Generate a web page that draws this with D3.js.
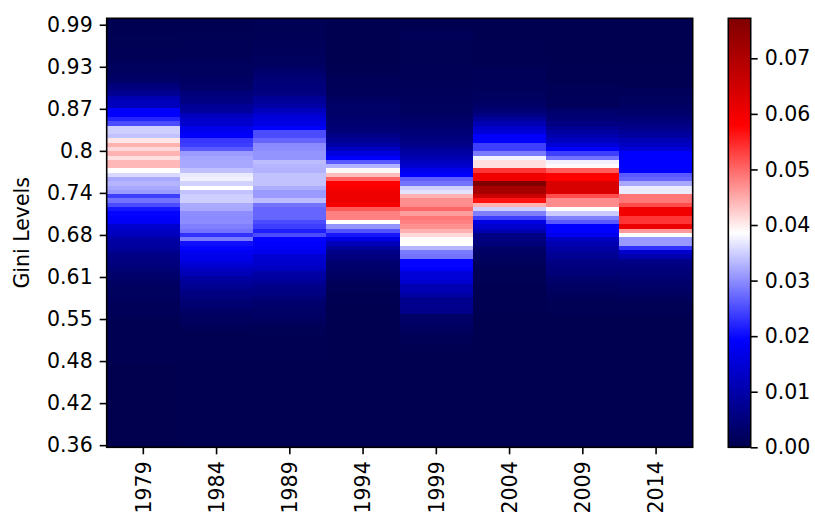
<!DOCTYPE html>
<meta charset="utf-8">
<head>
<style>
  body { margin: 0; background: #fff; }
  text { font-family: "DejaVu Sans", sans-serif; }
</style>
<title>Gini Levels heatmap</title>
</head>
<svg width="815" height="523"></svg>
<script src="https://cdn.jsdelivr.net/npm/d3@7"></script>
<script>

// years on the x axis, gini level tick labels on the y axis
var years = ["1979", "1984", "1989", "1994", "1999", "2004", "2009", "2014"];
var giniTicks = ["0.36", "0.42", "0.48", "0.55", "0.61", "0.68", "0.74", "0.8", "0.87", "0.93", "0.99"];
var cbarTicks = [0, 0.01, 0.02, 0.03, 0.04, 0.05, 0.06, 0.07];

// share of population per gini bin, bottom bin first (100 bins per year)
var v1979 = [
  0.0002,0.0002,0.0002,0.0002,0.0002,0.0002,0.0002,0.0002,0.0002,0.0002,
  0.0002,0.0002,0.0002,0.0002,0.0002,0.0002,0.0002,0.0002,0.0002,0.0002,
  0.0005,0.0005,0.0005,0.0005,0.0005,0.0005,0.0005,0.0005,0.0005,0.0005,
  0.001,0.0012,0.0013,0.0015,0.0016,0.0018,0.002,0.0022,0.0025,0.003,
  0.0035,0.0045,0.005,0.0055,0.006,0.007,0.0085,0.009,0.0095,0.012,
  0.013,0.014,0.0185,0.019,0.0195,0.021,0.025,0.028,0.024,0.031,
  0.032,0.033,0.032,0.0357,0.0386,0.044,0.044,0.041,0.0444,0.0415,
  0.0444,0.0405,0.034,0.035,0.035,0.025,0.022,0.019,0.019,0.012,
  0.012,0.011,0.0075,0.0055,0.005,0.003,0.0025,0.002,0.0018,0.0015,
  0.0012,0.001,0.001,0.0009,0.0008,0.0008,0.0007,0.0006,0.0005,0.0005
];
var v1984 = [
  0.0003,0.0003,0.0003,0.0003,0.0003,0.0003,0.0003,0.0003,0.0003,0.0003,
  0.0004,0.0004,0.0004,0.0004,0.0004,0.0004,0.0004,0.0004,0.0004,0.0004,
  0.0005,0.0005,0.0005,0.0005,0.0005,0.0005,0.0007,0.001,0.0015,0.0018,
  0.002,0.0025,0.0035,0.004,0.0045,0.0055,0.006,0.0075,0.0085,0.009,
  0.0115,0.013,0.0145,0.0165,0.017,0.018,0.0195,0.0205,0.0285,0.023,
  0.028,0.029,0.03,0.0298,0.03,0.032,0.0322,0.035,0.035,0.034,
  0.0386,0.0352,0.0375,0.037,0.0338,0.032,0.032,0.0318,0.031,0.026,
  0.024,0.0235,0.019,0.018,0.017,0.014,0.0135,0.012,0.0085,0.008,
  0.006,0.0055,0.005,0.003,0.0028,0.0025,0.0022,0.002,0.0018,0.0016,
  0.0014,0.0012,0.001,0.001,0.0009,0.0008,0.0008,0.0007,0.0006,0.0006
];
var v1989 = [
  0.0003,0.0003,0.0003,0.0003,0.0003,0.0003,0.0003,0.0003,0.0003,0.0003,
  0.0004,0.0004,0.0004,0.0004,0.0004,0.0004,0.0004,0.0004,0.0004,0.0004,
  0.0005,0.0005,0.0005,0.0005,0.0005,0.0005,0.0008,0.001,0.0013,0.0018,
  0.0025,0.0028,0.003,0.0035,0.004,0.0055,0.0058,0.0065,0.008,0.009,
  0.0095,0.0125,0.0135,0.014,0.0145,0.0175,0.0185,0.019,0.0195,0.025,
  0.0215,0.024,0.025,0.027,0.027,0.027,0.028,0.0335,0.031,0.031,
  0.0325,0.034,0.034,0.034,0.0328,0.033,0.0335,0.0305,0.0305,0.03,
  0.0298,0.027,0.025,0.025,0.0193,0.0165,0.0155,0.0145,0.012,0.0095,
  0.0085,0.008,0.0055,0.0052,0.005,0.0045,0.004,0.0035,0.0025,0.002,
  0.0018,0.0016,0.0014,0.0013,0.0012,0.0011,0.001,0.0009,0.0008,0.0008
];
var v1994 = [
  0.0003,0.0003,0.0003,0.0003,0.0003,0.0003,0.0003,0.0003,0.0003,0.0003,
  0.0003,0.0003,0.0003,0.0003,0.0003,0.0003,0.0003,0.0003,0.0003,0.0003,
  0.0003,0.0003,0.0003,0.0003,0.0003,0.0003,0.0003,0.0003,0.0003,0.0003,
  0.0003,0.0003,0.0003,0.0003,0.0005,0.0006,0.0008,0.001,0.0015,0.002,
  0.0025,0.003,0.0035,0.004,0.0055,0.0065,0.0085,0.012,0.0165,0.021,
  0.0255,0.0305,0.0386,0.0482,0.0482,0.051,0.0595,0.0605,0.0605,0.06,
  0.059,0.058,0.0505,0.0435,0.039,0.0328,0.026,0.019,0.016,0.0125,
  0.01,0.008,0.0065,0.005,0.0042,0.0038,0.0035,0.0032,0.003,0.0028,
  0.0025,0.0022,0.0015,0.0013,0.0012,0.0011,0.001,0.0005,0.0005,0.0005,
  0.0004,0.0004,0.0004,0.0004,0.0004,0.0003,0.0003,0.0003,0.0003,0.0003
];
var v1999 = [
  0.0003,0.0003,0.0003,0.0003,0.0003,0.0003,0.0003,0.0003,0.0003,0.0003,
  0.0003,0.0003,0.0003,0.0003,0.0003,0.0003,0.0003,0.0003,0.0003,0.0003,
  0.0003,0.0003,0.0003,0.0005,0.0008,0.001,0.0015,0.002,0.0025,0.0028,
  0.0028,0.0065,0.0068,0.007,0.0072,0.0095,0.011,0.011,0.014,0.0152,
  0.0152,0.0193,0.0195,0.0195,0.028,0.0285,0.033,0.0386,0.0388,0.0415,
  0.0445,0.047,0.0482,0.049,0.046,0.0502,0.0472,0.047,0.0444,0.0365,
  0.035,0.028,0.0265,0.0193,0.017,0.014,0.0125,0.011,0.0095,0.0085,
  0.0065,0.0055,0.005,0.0042,0.004,0.0035,0.0028,0.0025,0.002,0.0018,
  0.0016,0.0015,0.0014,0.0013,0.0012,0.0012,0.0011,0.001,0.001,0.0008,
  0.0008,0.0008,0.0008,0.0008,0.0008,0.0012,0.0012,0.0004,0.0003,0.0003
];
var v2004 = [
  0.0003,0.0003,0.0003,0.0003,0.0003,0.0003,0.0003,0.0003,0.0003,0.0003,
  0.0003,0.0003,0.0003,0.0003,0.0003,0.0003,0.0003,0.0003,0.0003,0.0003,
  0.0003,0.0003,0.0003,0.0003,0.0003,0.0003,0.0003,0.0003,0.0003,0.0003,
  0.0003,0.0004,0.0005,0.0005,0.0006,0.0006,0.0007,0.0007,0.0008,0.0008,
  0.0008,0.001,0.0013,0.0017,0.002,0.0025,0.003,0.005,0.0055,0.006,
  0.011,0.014,0.0165,0.024,0.029,0.035,0.0444,0.0565,0.0656,0.0714,
  0.0714,0.0772,0.06,0.06,0.054,0.041,0.041,0.0376,0.0285,0.024,
  0.024,0.0193,0.019,0.0152,0.0135,0.011,0.0085,0.006,0.004,0.003,
  0.0025,0.002,0.0018,0.0015,0.0015,0.0015,0.0013,0.0012,0.001,0.0006,
  0.0005,0.0005,0.0005,0.0005,0.0005,0.0004,0.0004,0.0004,0.0003,0.0003
];
var v2009 = [
  0.0003,0.0003,0.0003,0.0003,0.0003,0.0003,0.0003,0.0003,0.0003,0.0003,
  0.0003,0.0003,0.0003,0.0003,0.0003,0.0003,0.0003,0.0003,0.0003,0.0003,
  0.0003,0.0003,0.0003,0.0003,0.0003,0.0003,0.0003,0.0003,0.0003,0.0003,
  0.0003,0.0008,0.0008,0.0008,0.0012,0.0015,0.002,0.0025,0.003,0.0035,
  0.0045,0.005,0.0055,0.006,0.0075,0.0085,0.0095,0.011,0.013,0.0175,
  0.019,0.0193,0.026,0.029,0.0347,0.0386,0.0473,0.0473,0.0521,0.0635,
  0.0637,0.0637,0.058,0.058,0.051,0.039,0.0376,0.028,0.024,0.0193,
  0.0152,0.0125,0.0105,0.009,0.0075,0.0055,0.0042,0.004,0.003,0.0015,
  0.0014,0.0013,0.0012,0.0011,0.001,0.0006,0.0006,0.0005,0.0005,0.0005,
  0.0004,0.0004,0.0004,0.0004,0.0004,0.0003,0.0003,0.0003,0.0003,0.0003
];
var v2014 = [
  0.0003,0.0003,0.0003,0.0003,0.0003,0.0003,0.0003,0.0003,0.0003,0.0003,
  0.0003,0.0003,0.0003,0.0003,0.0003,0.0003,0.0003,0.0003,0.0003,0.0003,
  0.0003,0.0003,0.0003,0.0003,0.0003,0.0003,0.0003,0.0003,0.0003,0.0003,
  0.0003,0.0008,0.0008,0.0008,0.0015,0.002,0.0025,0.003,0.0035,0.004,
  0.0045,0.005,0.0055,0.0065,0.0105,0.014,0.023,0.0309,0.0309,0.0386,
  0.0463,0.0606,0.054,0.054,0.0598,0.0598,0.0521,0.049,0.049,0.0371,
  0.0371,0.032,0.027,0.026,0.0193,0.0193,0.0193,0.0193,0.019,0.015,
  0.013,0.0115,0.009,0.008,0.0065,0.0055,0.0045,0.0035,0.003,0.0025,
  0.002,0.0018,0.0015,0.0012,0.0005,0.0005,0.0005,0.0005,0.0005,0.0005,
  0.0004,0.0004,0.0004,0.0004,0.0004,0.0003,0.0003,0.0003,0.0003,0.0003
];
var values = [v1979, v1984, v1989, v1994, v1999, v2004, v2009, v2014];

var svg = d3.select("svg");
var plotLeft = 106.7, plotRight = 692.7, plotTop = 18.3, plotBottom = 447.3;
var cbLeft = 728.3, cbRight = 750.7;
var nRows = v1979.length;
var fontSize = 20.5;

var xScale = d3.scaleBand().domain(years).range([plotLeft, plotRight]);
var yScale = d3.scaleLinear().domain([0, nRows]).range([plotBottom, plotTop]);
// tick labels sit on bin centres 0.5 ... 98.5
var yTickScale = d3.scalePoint().domain(giniTicks).range([yScale(0.5), yScale(98.5)]);

var vmax = d3.max(values, function(col) { return d3.max(col); });
// matplotlib "seismic"
var color = d3.scaleLinear()
    .domain([0, 0.25, 0.5, 0.75, 1].map(function(t) { return t * vmax; }))
    .range(["rgb(0,0,77)", "rgb(0,0,255)", "rgb(255,255,255)", "rgb(255,0,0)", "rgb(128,0,0)"])
    .clamp(true);

// heatmap cells
var cols = svg.append("g")
    .attr("shape-rendering", "crispEdges")
    .selectAll("g")
    .data(values)
    .enter().append("g");

cols.selectAll("rect")
    .data(function(col, j) { return col.map(function(v, i) { return {year: years[j], row: i, v: v}; }); })
    .enter().append("rect")
    .attr("x", function(d) { return xScale(d.year); })
    .attr("y", function(d) { return yScale(d.row + 1); })
    .attr("width", xScale.bandwidth())
    .attr("height", function(d) { return yScale(d.row) - yScale(d.row + 1); })
    .attr("fill", function(d) { return color(d.v); });

// axes
function styleAxis(g) {
    g.attr("font-size", fontSize).attr("font-family", "DejaVu Sans");
    g.select(".domain").remove();
    g.selectAll(".tick line").attr("stroke", "#000").attr("stroke-width", 1.6);
    g.selectAll(".tick text").attr("fill", "#000");
}

svg.append("g")
    .attr("transform", "translate(" + plotLeft + ",0)")
    .call(d3.axisLeft(yTickScale).tickSize(7).tickPadding(7))
    .call(styleAxis);

var xAxis = svg.append("g")
    .attr("transform", "translate(0," + plotBottom + ")")
    .call(d3.axisBottom(xScale).tickSize(7))
    .call(styleAxis);

xAxis.selectAll(".tick text")
    .attr("transform", "rotate(-90)")
    .attr("text-anchor", "end")
    .attr("x", -14)
    .attr("y", 0)
    .attr("dy", "0.36em");

svg.append("rect")
    .attr("x", plotLeft).attr("y", plotTop)
    .attr("width", plotRight - plotLeft).attr("height", plotBottom - plotTop)
    .attr("fill", "none").attr("stroke", "#000").attr("stroke-width", 1.6);

svg.append("text")
    .attr("transform", "translate(29," + (plotTop + plotBottom) / 2 + ") rotate(-90)")
    .attr("text-anchor", "middle")
    .attr("font-size", fontSize)
    .text("Gini Levels");

// colorbar
var cbScale = d3.scaleLinear().domain([0, vmax]).range([plotBottom, plotTop]);
var grad = svg.append("defs").append("linearGradient")
    .attr("id", "cbar")
    .attr("x1", 0).attr("y1", 1).attr("x2", 0).attr("y2", 0);
grad.selectAll("stop")
    .data(d3.range(0, 1.0001, 0.05))
    .enter().append("stop")
    .attr("offset", function(t) { return t; })
    .attr("stop-color", function(t) { return color(t * vmax); });

svg.append("rect")
    .attr("x", cbLeft).attr("y", plotTop)
    .attr("width", cbRight - cbLeft).attr("height", plotBottom - plotTop)
    .attr("fill", "url(#cbar)")
    .attr("stroke", "#000").attr("stroke-width", 1.6);

svg.append("g")
    .attr("transform", "translate(" + cbRight + ",0)")
    .call(d3.axisRight(cbScale).tickValues(cbarTicks).tickFormat(d3.format(".2f")).tickSize(7).tickPadding(7))
    .call(styleAxis);

</script>
